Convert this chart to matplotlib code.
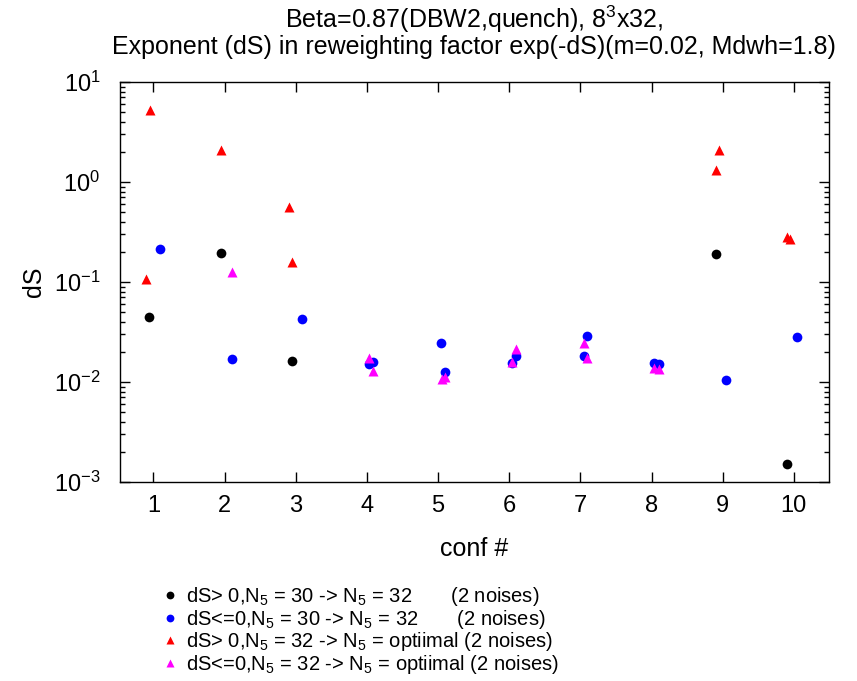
import matplotlib
matplotlib.use("Agg")
import matplotlib.pyplot as plt
from matplotlib.ticker import LogLocator, NullFormatter

plt.rcParams['font.family'] = ['Liberation Sans', 'DejaVu Sans']
plt.rcParams['mathtext.fontset'] = 'custom'
plt.rcParams['mathtext.rm'] = 'Liberation Sans'
plt.rcParams['mathtext.it'] = 'Liberation Sans:italic'
plt.rcParams['mathtext.bf'] = 'Liberation Sans:bold'

# dS > 0, N5 = 30 -> 32
pos_30_x = [0.94, 1.95, 2.95, 8.90, 9.90]
pos_30_y = [0.045, 0.194, 0.0162, 0.189, 0.00152]

# dS <= 0, N5 = 30 -> 32
neg_30_x = [1.09, 2.10, 3.09, 4.03, 4.09, 5.04, 5.10, 6.04, 6.09,
            7.05, 7.10, 8.04, 8.10, 9.05, 10.05]
neg_30_y = [0.214, 0.0169, 0.043, 0.0151, 0.0158, 0.0245, 0.0127, 0.0155, 0.0181,
            0.0181, 0.0288, 0.0156, 0.0152, 0.0104, 0.028]

# dS > 0, N5 = 32 -> optimal
pos_32_x = [0.95, 0.90, 1.95, 2.90, 2.95, 8.95, 8.90, 9.90, 9.95]
pos_32_y = [5.2, 0.107, 2.1, 0.558, 0.160, 2.09, 1.32, 0.28, 0.269]

# dS <= 0, N5 = 32 -> optimal
neg_32_x = [2.10, 4.03, 4.09, 5.05, 5.10, 6.09, 6.04, 7.05, 7.10, 8.04, 8.10]
neg_32_y = [0.127, 0.0174, 0.0129, 0.0107, 0.0111, 0.0212, 0.0157, 0.0244, 0.0175,
            0.0138, 0.0134]

labels = [
    r"dS> 0,N$_5$ = 30 -> N$_5$ = 32       (2 noises)",
    r"dS<=0,N$_5$ = 30 -> N$_5$ = 32       (2 noises)",
    r"dS> 0,N$_5$ = 32 -> N$_5$ = optiimal (2 noises)",
    r"dS<=0,N$_5$ = 32 -> N$_5$ = optiimal (2 noises)",
]

fig = plt.figure(figsize=(8.57, 6.81), dpi=100)
ax = fig.add_axes([0.140, 0.2922, 0.827, 0.5874])

ax.plot(pos_30_x, pos_30_y, 'o', color='black', ms=7, mec='none', label=labels[0])
ax.plot(neg_30_x, neg_30_y, 'o', color='blue', ms=7, mec='none', label=labels[1])
ax.plot(pos_32_x, pos_32_y, '^', color='red', ms=7, mec='none', label=labels[2])
ax.plot(neg_32_x, neg_32_y, '^', color='magenta', ms=7, mec='none', label=labels[3])

ax.set_yscale('log')
ax.set_ylim(1e-3, 1e1)
ax.set_xlim(0.53, 10.49)
ax.set_xticks(range(1, 11))
ax.yaxis.set_major_locator(LogLocator(base=10, numticks=10))
ax.yaxis.set_minor_locator(LogLocator(base=10, subs=range(2, 10), numticks=20))
ax.yaxis.set_minor_formatter(NullFormatter())

ax.tick_params(which='both', direction='in', top=True, right=True,
               labelsize=17, width=1)
ax.tick_params(which='major', length=7)
ax.tick_params(axis='x', which='major', pad=9)
ax.tick_params(axis='y', which='major', pad=14)
ax.tick_params(which='minor', length=3.5)
for s in ax.spines.values():
    s.set_linewidth(1)

ax.set_xlabel("conf #", fontsize=18, labelpad=15)
ax.set_ylabel("dS", fontsize=18, labelpad=6)
ax.set_title("Beta=0.87(DBW2,quench), 8$^3$x32,\n"
             "Exponent (dS) in reweighting factor exp(-dS)(m=0.02, Mdwh=1.8)",
             fontsize=18, pad=20, linespacing=1.0)

fig.legend(loc='upper left', bbox_to_anchor=(0.179, 0.1525), frameon=False,
           fontsize=14.5, handlelength=0.8, handletextpad=0.4,
           labelspacing=-0.02, borderaxespad=0, markerscale=0.8)

fig.savefig("out.png", dpi=100)
